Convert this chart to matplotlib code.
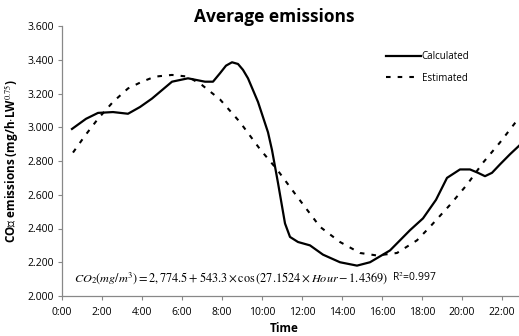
import matplotlib.pyplot as plt

# hours and CO2 emission values
calc_hour = [0.5, 1.2, 1.8, 2.55, 3.3, 3.9, 4.5, 5.0, 5.5, 6.3, 7.15, 7.55, 7.9, 8.2, 8.5,
             8.8, 9.05, 9.3, 9.55, 9.8, 10.05, 10.3, 10.5, 10.8, 11.15, 11.4, 11.8, 12.4,
             13.05, 13.9, 14.75, 15.4, 16.4, 17.4, 18.05, 18.7, 19.25, 19.9, 20.4, 20.8,
             21.15, 21.5, 21.9, 22.4, 22.85]
calc_val = [2.99, 3.05, 3.085, 3.09, 3.08, 3.12, 3.17, 3.22, 3.27, 3.29, 3.27, 3.27, 3.32, 3.365,
            3.385, 3.375, 3.34, 3.29, 3.22, 3.15, 3.06, 2.97, 2.865, 2.67, 2.43, 2.35, 2.32, 2.30,
            2.245, 2.20, 2.18, 2.20, 2.27, 2.39, 2.46, 2.57, 2.70, 2.75, 2.75, 2.73,
            2.71, 2.73, 2.78, 2.84, 2.89]

est_hour = [0.55, 1.15, 1.8, 2.55, 3.3, 4.0, 4.65, 5.5, 6.3, 7.0, 7.9, 8.9, 9.9, 10.75,
            11.75, 12.9, 13.9, 14.9, 15.75, 16.75, 17.75, 18.4, 19.4, 20.25, 21.05, 21.9,
            22.65, 22.85]
est_val = [2.85, 2.95, 3.05, 3.15, 3.23, 3.27, 3.30, 3.31, 3.30, 3.25, 3.165, 3.03, 2.87, 2.75,
           2.59, 2.41, 2.32, 2.255, 2.24, 2.255, 2.33, 2.41, 2.54, 2.66, 2.79, 2.91,
           3.025, 3.05]

xticks = list(range(0, 23, 2))
xlabels = ['%d:00' % h for h in xticks]
yticks = [2.0, 2.2, 2.4, 2.6, 2.8, 3.0, 3.2, 3.4, 3.6]

plt.rcParams['font.family'] = ['Open Sans', 'DejaVu Sans']
plt.rcParams['mathtext.fontset'] = 'stix'

fig = plt.figure(figsize=(5.19, 3.36), dpi=100)
ax = fig.add_axes([62 / 519, 40 / 336, 457 / 519, 270 / 336])

ax.plot(calc_hour, calc_val, color='black', lw=1.6, label='Calculated')
ax.plot(est_hour, est_val, color='black', lw=1.5, linestyle=(0, (2.2, 3.4)), label='Estimated')

ax.set_xlim(0, 22.85)
ax.set_ylim(2.0, 3.6)
ax.set_xticks(xticks)
ax.set_xticklabels(xlabels)
ax.set_yticks(yticks)
ax.set_yticklabels(['%.3f' % v for v in yticks])
ax.tick_params(labelsize=7.5, color='#888888', length=3, width=0.8, pad=5)
ax.tick_params(axis='y', pad=3)

for s in ['top', 'right']:
    ax.spines[s].set_visible(False)
for s in ['left', 'bottom']:
    ax.spines[s].set_color('#888888')
    ax.spines[s].set_linewidth(0.9)

leg = ax.legend(loc='upper left', bbox_to_anchor=(0.69, 0.94), frameon=False,
                fontsize=7, handlelength=3.6, handletextpad=0.05, labelspacing=1.1)

fig.text(0.528, 0.948, 'Average emissions', ha='center', va='center',
         fontsize=12.5, fontweight='bold')
fig.text(0.547, 0.022, 'Time', ha='center', va='center', fontsize=8.5, fontweight='bold')
fig.text(0.022, 0.52, 'CO\u2082 emissions (mg/h$\\cdot$LW$^{0.75}$)', rotation=90,
         ha='center', va='center', fontsize=8.5, fontweight='bold')

ax.text(0.027, 0.065,
        r'$CO_2\left(mg/m^3\right) = 2,774.5 + 543.3\times\cos\left(27.1524\times Hour - 1.4369\right)$',
        transform=ax.transAxes, fontsize=8.8, ha='left', va='center')
ax.text(0.722, 0.07, 'R$^2$=0.997', transform=ax.transAxes, fontsize=7.5,
        ha='left', va='center')

fig.savefig('out.png', dpi=100)
